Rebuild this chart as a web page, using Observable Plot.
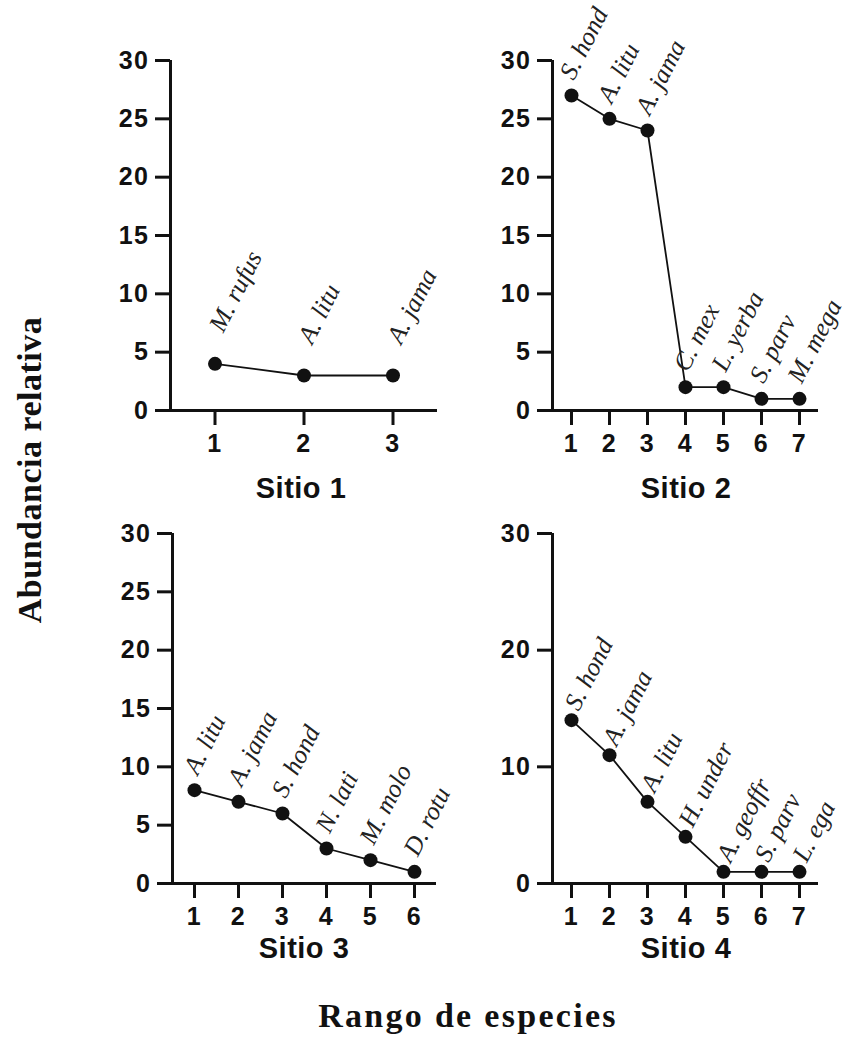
<!DOCTYPE html>
<html>
<head>
<meta charset="utf-8">
<script src="https://cdn.jsdelivr.net/npm/d3@7"></script>
<script src="https://cdn.jsdelivr.net/npm/@observablehq/plot@0.6"></script>
<style>
  html, body { margin: 0; padding: 0; background: #fff; }
  #root { position: relative; width: 851px; height: 1038px; overflow: hidden; background: #fff; }
  .panel { position: absolute; }
  .panel svg { overflow: visible; }
  .panel g[aria-label$="tick"], .panel g[aria-label="x-axis"] line, .panel g[aria-label="y-axis"] line { stroke-width: 3px; }
  .panel g[aria-label$="tick label"] text, .panel g[aria-label="x-axis"] text, .panel g[aria-label="y-axis"] text { letter-spacing: 1.5px; }
  .ttl { position: absolute; font-family: "Liberation Sans", Arial, sans-serif; font-weight: bold; font-size: 29px; letter-spacing: 0.5px; color: #111; transform: translate(-50%, -50%); white-space: nowrap; }
  .axt { position: absolute; font-family: "Liberation Serif", "Times New Roman", serif; font-weight: bold; color: #111; white-space: nowrap; }
</style>
</head>
<body>
<div id="root"></div>
<script>
// ---- data ----
const sitio1Rank = [1, 2, 3];
const sitio1Abund = [4, 3, 3];
const sitio1Species = ["M. rufus", "A. litu", "A. jama"];

const sitio2Rank = [1, 2, 3, 4, 5, 6, 7];
const sitio2Abund = [27, 25, 24, 2, 2, 1, 1];
const sitio2Species = ["S. hond", "A. litu", "A. jama", "C. mex", "L. yerba", "S. parv", "M. mega"];

const sitio3Rank = [1, 2, 3, 4, 5, 6];
const sitio3Abund = [8, 7, 6, 3, 2, 1];
const sitio3Species = ["A. litu", "A. jama", "S. hond", "N. lati", "M. molo", "D. rotu"];

const sitio4Rank = [1, 2, 3, 4, 5, 6, 7];
const sitio4Abund = [14, 11, 7, 4, 1, 1, 1];
const sitio4Species = ["S. hond", "A. jama", "A. litu", "H. under", "A. geoffr", "S. parv", "L. ega"];

const yTicks5 = [0, 5, 10, 15, 20, 25, 30];
const yTicks10 = [0, 10, 20, 30];
const panelTitles = ["Sitio 1", "Sitio 2", "Sitio 3", "Sitio 4"];
const yTitle = "Abundancia relativa";
const xTitle = "Rango de especies";

// ---- layout ----
const root = document.getElementById("root");

function panel({rank, abund, species, yTicks, xMax, left, top, width, height, mL, mR, mT, mB, dx, dy}) {
  const data = rank.map((r, i) => ({rank: r, abund: abund[i], sp: species[i]}));
  const chart = Plot.plot({
    width, height,
    marginLeft: mL, marginRight: mR, marginTop: mT, marginBottom: mB,
    style: {fontFamily: "Liberation Sans, Arial, sans-serif", fontSize: "25px", fontWeight: "bold", color: "#111", background: "transparent", overflow: "visible"},
    x: {domain: [0.5, xMax], ticks: rank, tickFormat: d3.format("d"), tickSize: 15, tickPadding: 9, label: null},
    y: {domain: [0, 30], ticks: yTicks, tickFormat: d3.format("d"), tickSize: 15, tickPadding: 6, label: null},
    marks: [
      Plot.ruleY([0], {stroke: "#111", strokeWidth: 3}),
      Plot.ruleX([0.5], {stroke: "#111", strokeWidth: 3}),
      Plot.line(data, {x: "rank", y: "abund", stroke: "#111", strokeWidth: 1.8}),
      Plot.dot(data, {x: "rank", y: "abund", r: 7, fill: "#111", stroke: "none"}),
      Plot.text(data, {x: "rank", y: "abund", text: "sp", rotate: -63, textAnchor: "start", dx, dy,
        fontFamily: "Liberation Serif, Times New Roman, serif", fontStyle: "italic", fontWeight: "normal", fontSize: 25.5, fill: "#222"})
    ]
  });
  const div = document.createElement("div");
  div.className = "panel";
  div.style.left = left + "px";
  div.style.top = top + "px";
  div.appendChild(chart);
  root.appendChild(div);
}

panel({rank: sitio1Rank, abund: sitio1Abund, species: sitio1Species, yTicks: yTicks5, xMax: 3.5,
  left: 0, top: 0, width: 450, height: 500, mL: 170, mR: 13, mT: 60, mB: 90, dx: 1, dy: -34});
panel({rank: sitio2Rank, abund: sitio2Abund, species: sitio2Species, yTicks: yTicks5, xMax: 7.5,
  left: 450, top: 0, width: 401, height: 500, mL: 102, mR: 33, mT: 60, mB: 90, dx: -5, dy: -18});
panel({rank: sitio3Rank, abund: sitio3Abund, species: sitio3Species, yTicks: yTicks5, xMax: 6.5,
  left: 0, top: 473, width: 450, height: 500, mL: 172, mR: 14, mT: 60, mB: 90, dx: -4, dy: -18});
panel({rank: sitio4Rank, abund: sitio4Abund, species: sitio4Species, yTicks: yTicks10, xMax: 7.5,
  left: 450, top: 473, width: 401, height: 500, mL: 102, mR: 33, mT: 60, mB: 90, dx: 0, dy: -12});

const titlePos = [[301, 488], [686, 488], [304, 948], [686, 948]];
panelTitles.forEach((t, i) => {
  const d = document.createElement("div");
  d.className = "ttl";
  d.textContent = t;
  d.style.left = titlePos[i][0] + "px";
  d.style.top = titlePos[i][1] + "px";
  root.appendChild(d);
});

const yt = document.createElement("div");
yt.className = "axt";
yt.textContent = yTitle;
yt.style.fontSize = "34px";
yt.style.letterSpacing = "0.5px";
yt.style.left = "30px";
yt.style.top = "470px";
yt.style.transform = "translate(-50%, -50%) rotate(-90deg)";
root.appendChild(yt);

const xt = document.createElement("div");
xt.className = "axt";
xt.textContent = xTitle;
xt.style.fontSize = "34px";
xt.style.letterSpacing = "2.3px";
xt.style.left = "468px";
xt.style.top = "1016px";
xt.style.transform = "translate(-50%, -50%)";
root.appendChild(xt);
</script>
</body>
</html>
